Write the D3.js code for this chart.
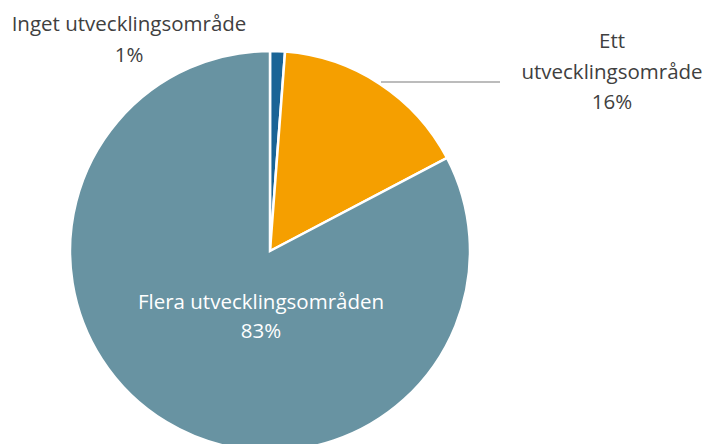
<!DOCTYPE html>
<html>
<head>
<meta charset="utf-8">
<script src="https://cdn.jsdelivr.net/npm/d3@7"></script>
<style>
  body { margin: 0; background: #fff; }
  text { font-family: "Open Sans", "Noto Sans", sans-serif; font-size: 20.5px; }
</style>
</head>
<body>
<div id="chart"></div>
<script>
var categories = ["Inget utvecklingsområde", "Ett utvecklingsområde", "Flera utvecklingsområden"];
var values = [1.2, 16.1, 82.7];
var pctLabels = ["1%", "16%", "83%"];
var colors = ["#1a6496", "#f59f00", "#6893a2"];

function init() {
  var w = 705;
  var h = 444;
  var cx = 270;
  var cy = 251;
  var r = 200;

  var svg = d3.select("#chart")
    .append("svg")
    .attr("width", w)
    .attr("height", h);

  var pie = d3.pie().sort(null).value(function(d) { return d; });
  var arc = d3.arc().innerRadius(0).outerRadius(r);
  var arcs = pie(values);

  var g = svg.append("g")
    .attr("transform", "translate(" + cx + "," + cy + ")");

  g.selectAll("path")
    .data(arcs)
    .enter()
    .append("path")
    .attr("d", arc)
    .attr("fill", function(d, i) { return colors[i]; })
    .attr("stroke", "#fff")
    .attr("stroke-width", 2.5)
    .attr("stroke-linejoin", "miter");

  // leader line for "Ett" label
  svg.append("line")
    .attr("x1", 381).attr("y1", 82)
    .attr("x2", 500).attr("y2", 82)
    .attr("stroke", "#a6a6a6")
    .attr("stroke-width", 1.5);

  var labels = [
    { lines: ["Inget utvecklingsområde", pctLabels[0]], x: 129, y: 24, step: 30.5, fill: "#404040" },
    { lines: ["Ett", "utvecklingsområde", pctLabels[1]], x: 612, y: 41, step: 30.5, fill: "#404040" },
    { lines: ["Flera utvecklingsområden", pctLabels[2]], x: 261, y: 302, step: 29, fill: "#ffffff" }
  ];

  labels.forEach(function(l) {
    var t = svg.append("text")
      .attr("text-anchor", "middle")
      .attr("fill", l.fill);
    l.lines.forEach(function(s, i) {
      t.append("tspan")
        .attr("x", l.x)
        .attr("y", l.y + i * l.step)
        .attr("dy", "0.35em")
        .text(s);
    });
  });
}

window.onload = init;
</script>
</body>
</html>
